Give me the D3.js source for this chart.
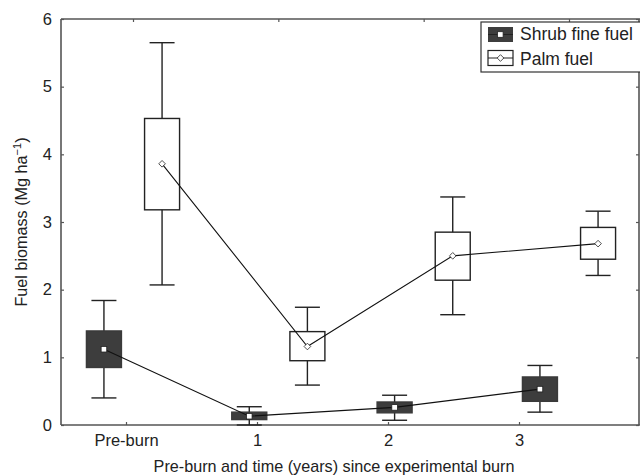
<!DOCTYPE html>
<html><head><meta charset="utf-8">
<script src="https://cdn.jsdelivr.net/npm/d3@7"></script>
<style>body{margin:0;background:#fff}svg{display:block;font-family:"Liberation Sans",Arial,sans-serif}</style>
</head><body>
<svg id="c" width="640" height="476"></svg>
<script>
const categories = ["Pre-burn", "1", "2", "3"];
const series = ["Shrub fine fuel", "Palm fuel"];
// per category: mean, box low, box high, whisker low, whisker high
const shrubMean = [1.12, 0.13, 0.26, 0.53];
const shrubBoxLo = [0.85, 0.08, 0.18, 0.35];
const shrubBoxHi = [1.39, 0.19, 0.34, 0.71];
const shrubWhLo = [0.40, 0.00, 0.07, 0.19];
const shrubWhHi = [1.84, 0.27, 0.44, 0.88];
const palmMean = [3.86, 1.16, 2.50, 2.68];
const palmBoxLo = [3.18, 0.95, 2.14, 2.45];
const palmBoxHi = [4.53, 1.38, 2.85, 2.92];
const palmWhLo = [2.07, 0.59, 1.63, 2.21];
const palmWhHi = [5.65, 1.74, 3.37, 3.16];
const yTicks = [0, 1, 2, 3, 4, 5, 6];

const svg = d3.select("#c");
const L = 61, R = 639, T = 19, B = 425;
const y = d3.scaleLinear().domain([0, 6]).range([B, T]);
const xData = d3.scaleLinear().domain([0, 3]).range([133, 569]);
const xLab = d3.scaleLinear().domain([0, 3]).range([126, 519]);
const axisCol = "#555";

// frame lines
const g = svg.append("g");
g.append("line").attr("x1", L).attr("x2", 641).attr("y1", T).attr("y2", T).attr("stroke", axisCol).attr("stroke-width", 1.6);
g.append("line").attr("x1", L).attr("x2", 641).attr("y1", B).attr("y2", B).attr("stroke", axisCol).attr("stroke-width", 1.6);
g.append("line").attr("x1", L).attr("x2", L).attr("y1", T).attr("y2", B).attr("stroke", axisCol).attr("stroke-width", 1.6);
g.append("line").attr("x1", R).attr("x2", R).attr("y1", T).attr("y2", B).attr("stroke", axisCol).attr("stroke-width", 1.6);

// left axis
const ya = svg.append("g").attr("transform", `translate(${L},0)`)
  .call(d3.axisLeft(y).tickValues(yTicks).tickSize(-3).tickPadding(9).tickFormat(d3.format("d")));
ya.select(".domain").remove();
ya.selectAll("line").attr("stroke", axisCol).attr("stroke-width", 1.2);
ya.selectAll("text").attr("font-size", 16.5).attr("fill", "#222").attr("font-family", "Liberation Sans, Arial, sans-serif");
// right axis
const yr = svg.append("g").attr("transform", `translate(${R},0)`)
  .call(d3.axisRight(y).tickValues(yTicks).tickSize(-3).tickFormat(""));
yr.select(".domain").remove();
yr.selectAll("line").attr("stroke", axisCol).attr("stroke-width", 1.2);
// bottom axis
const xa = svg.append("g").attr("transform", `translate(0,${B})`)
  .call(d3.axisBottom(xLab).tickValues([0, 1, 2, 3]).tickSize(-3).tickPadding(9).tickFormat(i => categories[i]));
xa.select(".domain").remove();
xa.selectAll("line").attr("stroke", axisCol).attr("stroke-width", 1.2);
xa.selectAll("text").attr("font-size", 16.5).attr("fill", "#222").attr("font-family", "Liberation Sans, Arial, sans-serif");
// top axis
const xt = svg.append("g").attr("transform", `translate(0,${T})`)
  .call(d3.axisTop(xData).tickValues([0, 1, 2, 3]).tickSize(-3).tickFormat(""));
xt.select(".domain").remove();
xt.selectAll("line").attr("stroke", axisCol).attr("stroke-width", 1.2);

// axis titles
svg.append("text").attr("x", 334).attr("y", 472).attr("text-anchor", "middle")
  .attr("font-size", 16.2).attr("fill", "#222").text("Pre-burn and time (years) since experimental burn");
const yt = svg.append("text").attr("transform", "translate(27,222) rotate(-90)").attr("text-anchor", "middle")
  .attr("font-size", 16.2).attr("fill", "#222");
yt.append("tspan").text("Fuel biomass (Mg ha");
yt.append("tspan").attr("dy", -6).attr("font-size", 11).text("\u22121");
yt.append("tspan").attr("dy", 6).text(")");

const boxW = 35, capW = 25;
function drawSeries(mean, bLo, bHi, wLo, wHi, off, fill) {
  const gs = svg.append("g");
  const cx = i => xData(i + off);
  const idx = d3.range(categories.length);
  gs.selectAll(".wh").data(idx).join("line")
    .attr("x1", cx).attr("x2", cx).attr("y1", i => y(wLo[i])).attr("y2", i => y(wHi[i]))
    .attr("stroke", "#222").attr("stroke-width", 1.4);
  gs.selectAll(".capHi").data(idx).join("line")
    .attr("x1", i => cx(i) - capW / 2).attr("x2", i => cx(i) + capW / 2)
    .attr("y1", i => y(wHi[i])).attr("y2", i => y(wHi[i])).attr("stroke", "#222").attr("stroke-width", 1.4);
  gs.selectAll(".capLo").data(idx).join("line")
    .attr("x1", i => cx(i) - capW / 2).attr("x2", i => cx(i) + capW / 2)
    .attr("y1", i => y(wLo[i])).attr("y2", i => y(wLo[i])).attr("stroke", "#222").attr("stroke-width", 1.4);
  gs.selectAll("rect").data(idx).join("rect")
    .attr("x", i => cx(i) - boxW / 2).attr("width", boxW)
    .attr("y", i => y(bHi[i])).attr("height", i => y(bLo[i]) - y(bHi[i]))
    .attr("fill", fill).attr("stroke", fill === "#fff" ? "#222" : "#3a3a3a").attr("stroke-width", 1.4);
  return { cx, idx, gs };
}
const sh = drawSeries(shrubMean, shrubBoxLo, shrubBoxHi, shrubWhLo, shrubWhHi, -0.2, "#3d3d3d");
const pa = drawSeries(palmMean, palmBoxLo, palmBoxHi, palmWhLo, palmWhHi, 0.2, "#fff");

// mean lines
const lineS = d3.line().x(i => sh.cx(i)).y(i => y(shrubMean[i]));
const lineP = d3.line().x(i => pa.cx(i)).y(i => y(palmMean[i]));
svg.append("path").attr("d", lineS(sh.idx)).attr("fill", "none").attr("stroke", "#111").attr("stroke-width", 1.1);
svg.append("path").attr("d", lineP(pa.idx)).attr("fill", "none").attr("stroke", "#111").attr("stroke-width", 1.1);
// markers
svg.append("g").selectAll("rect").data(sh.idx).join("rect")
  .attr("x", i => sh.cx(i) - 2.8).attr("y", i => y(shrubMean[i]) - 2.8).attr("width", 5.6).attr("height", 5.6)
  .attr("fill", "#fff").attr("stroke", "#222").attr("stroke-width", 0.8);
svg.append("g").selectAll("path").data(pa.idx).join("path")
  .attr("d", d3.symbol(d3.symbolDiamond2, 28)())
  .attr("transform", i => `translate(${pa.cx(i)},${y(palmMean[i])})`)
  .attr("fill", "#fff").attr("stroke", "#222").attr("stroke-width", 0.8);

// legend
const lg = svg.append("g");
lg.append("rect").attr("x", 481).attr("y", 22).attr("width", 170).attr("height", 50)
  .attr("fill", "#fff").attr("stroke", "#333").attr("stroke-width", 1.2);
lg.append("rect").attr("x", 488).attr("y", 27).attr("width", 25).attr("height", 15).attr("fill", "#3d3d3d");
lg.append("line").attr("x1", 488).attr("x2", 513).attr("y1", 34.5).attr("y2", 34.5).attr("stroke", "#222").attr("stroke-width", 1);
lg.append("rect").attr("x", 497.5).attr("y", 31.7).attr("width", 5.6).attr("height", 5.6).attr("fill", "#fff").attr("stroke", "#222").attr("stroke-width", 0.8);
lg.append("rect").attr("x", 488).attr("y", 50.5).attr("width", 25).attr("height", 15).attr("fill", "#fff").attr("stroke", "#222").attr("stroke-width", 1.2);
lg.append("line").attr("x1", 488).attr("x2", 513).attr("y1", 58).attr("y2", 58).attr("stroke", "#222").attr("stroke-width", 1);
lg.append("path").attr("d", d3.symbol(d3.symbolDiamond2, 28)()).attr("transform", "translate(500.5,58)")
  .attr("fill", "#fff").attr("stroke", "#222").attr("stroke-width", 0.8);
lg.selectAll("text").data(series).join("text")
  .attr("x", 520).attr("y", (d, i) => 40 + i * 24.5).attr("font-size", 17.5).attr("fill", "#222").text(d => d);
</script>
</body></html>
